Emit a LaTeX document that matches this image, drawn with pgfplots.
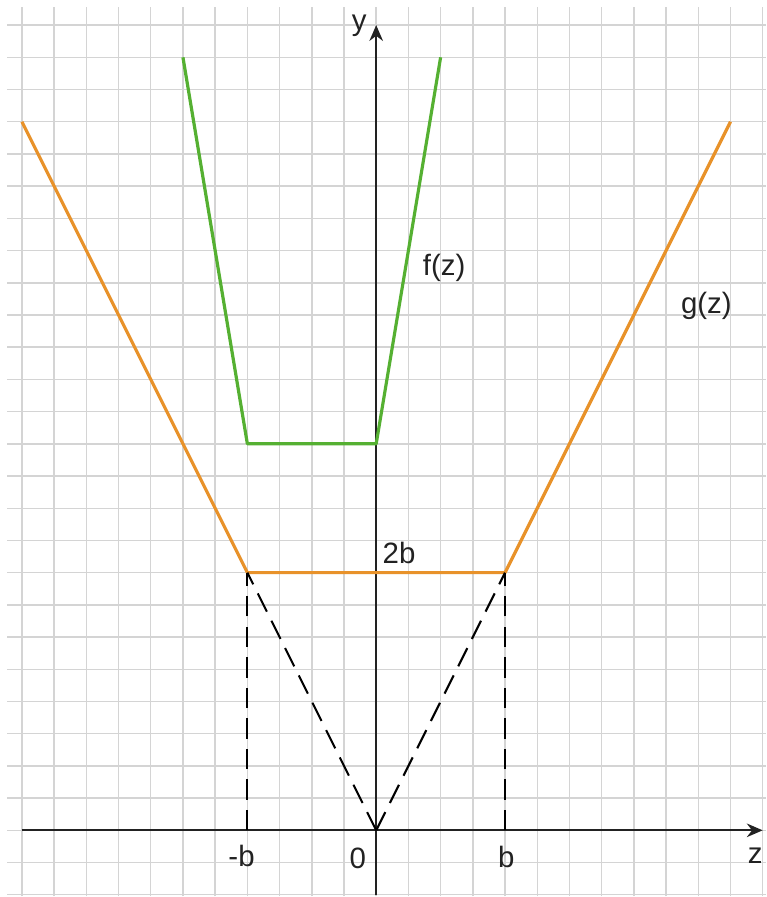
\documentclass[border=0pt]{standalone}
\usepackage{pgfplots}
\pgfplotsset{compat=1.18}
\usepackage{fontspec}
\setmainfont{Liberation Sans}
\usetikzlibrary{arrows.meta}
\definecolor{gorange}{HTML}{E8922A}
\definecolor{ggreen}{HTML}{55B032}
\definecolor{gridc}{HTML}{D4D4D4}
\definecolor{axc}{HTML}{222222}
\begin{document}
\begin{tikzpicture}
\begin{axis}[
  x=0.5cm, y=0.5cm,
  xmin=-11.68, xmax=12.11, ymin=-2.07, ymax=25.78,
  hide axis, clip=false,
]
\coordinate (bl) at (axis cs:-11.68,-2.07);
\coordinate (tr) at (axis cs:12.11,25.78);
% grid
\pgfplotsinvokeforeach{-11,...,12}{\draw[gridc, line width=0.65pt] (axis cs:#1,-2.05) -- (axis cs:#1,25.55);}
\pgfplotsinvokeforeach{-2,...,25}{\draw[gridc, line width=0.65pt] (axis cs:-11.45,#1) -- (axis cs:12.11,#1);}
% axes
\draw[axc, line width=0.9pt, -{Stealth[length=7pt,width=6pt]}] (axis cs:-11,0) -- (axis cs:12,0);
\draw[axc, line width=0.9pt, -{Stealth[length=7pt,width=6pt]}] (axis cs:0,-2) -- (axis cs:0,25);
% f(z)
\addplot[ggreen, line width=1.4pt, line join=round] coordinates {(-6,24) (-4,12) (0,12) (2,24)};
% g(z)
\addplot[gorange, line width=1.4pt, line join=round] coordinates {(-11,22) (-4,8) (4,8) (11,22)};
% dashed
\addplot[black, line width=0.9pt, dash pattern=on 9pt off 4.5pt] coordinates {(-4,0) (-4,8)};
\addplot[black, line width=0.9pt, dash pattern=on 9pt off 4.5pt] coordinates {(4,0) (4,8)};
\addplot[black, line width=0.9pt, dash pattern=on 9pt off 4.5pt] coordinates {(0,0) (-4,8)};
\addplot[black, line width=0.9pt, dash pattern=on 9pt off 4.5pt] coordinates {(0,0) (4,8)};
% labels
\begin{scope}[every node/.style={font=\fontsize{13}{15}\selectfont, text=axc, inner sep=0pt}]
\node at (axis cs:-0.53,24.97) {y};
\node at (axis cs:11.77,-0.78) {z};
\node at (axis cs:-4.18,-0.81) {-b};
\node at (axis cs:-0.57,-0.87) {0};
\node at (axis cs:4.04,-0.82) {b};
\node at (axis cs:0.71,8.62) {2b};
\node at (axis cs:2.11,17.47) {f(z)};
\node at (axis cs:10.25,16.29) {g(z)};
\end{scope}
\end{axis}
\pgfresetboundingbox
\path[use as bounding box] (bl) rectangle (tr);
\end{tikzpicture}
\end{document}
